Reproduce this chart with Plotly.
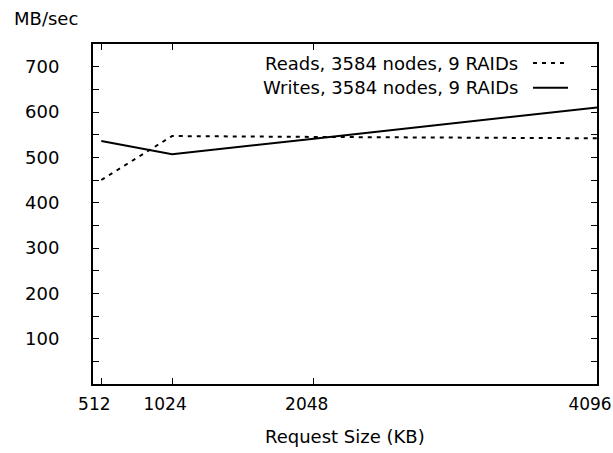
import plotly.graph_objects as go

request_kb = [512, 1024, 2048, 4096]
reads_mbs = [450, 547, 545, 542]
writes_mbs = [536, 507, 541, 610]
x_tick_labels = ["512", "1024", "2048", "4096"]
y_tick_values = [100, 200, 300, 400, 500, 600, 700]
reads_name = "Reads, 3584 nodes, 9 RAIDs"
writes_name = "Writes, 3584 nodes, 9 RAIDs"

FONT = "DejaVu Sans"
FS = 18
XR = [452, 4096]

fig = go.Figure()
fig.add_trace(go.Scatter(x=request_kb, y=reads_mbs, mode="lines", name=reads_name,
                         line=dict(color="black", width=2, dash="4px,5px"), showlegend=False))
fig.add_trace(go.Scatter(x=request_kb, y=writes_mbs, mode="lines", name=writes_name,
                         line=dict(color="black", width=2), showlegend=False))

fig.update_layout(
    width=613, height=453,
    margin=dict(l=93, r=16, t=44, b=68.5, autoexpand=False),
    paper_bgcolor="white", plot_bgcolor="white",
    font=dict(family=FONT, size=FS, color="black"),
    xaxis=dict(range=XR, tickvals=request_kb, ticktext=x_tick_labels, ticks="inside",
               ticklen=6, tickwidth=1, tickcolor="black", automargin=False,
               showgrid=False, zeroline=False, showline=True, linecolor="black",
               linewidth=2, mirror="ticks", ticklabelstandoff=4, ticklabelshift=-7,
               ticklabeloverflow="allow",
               tickfont=dict(family=FONT, size=17, color="black")),
    yaxis=dict(range=[0, 750], tickvals=y_tick_values, ticks="inside", ticklen=6,
               tickwidth=1, tickcolor="black", showgrid=False, zeroline=False,
               showline=True, linecolor="black", linewidth=2, mirror="ticks",
               ticklabelstandoff=28, automargin=False,
               minor=dict(dtick=50, tick0=0, ticks="inside", ticklen=6, tickwidth=1,
                          tickcolor="black", showgrid=False),
               tickfont=dict(family=FONT, size=FS, color="black")),
    annotations=[
        dict(text="MB/sec", xref="paper", yref="paper", x=-0.161, y=1.076,
             xanchor="left", yanchor="middle", showarrow=False,
             font=dict(family=FONT, size=FS, color="black")),
        dict(text="Request Size (KB)", xref="paper", yref="paper", x=0.5, y=-0.154,
             xanchor="center", yanchor="middle", showarrow=False,
             font=dict(family=FONT, size=FS, color="black")),
        dict(text=reads_name, xref="paper", yref="paper", x=0.847, y=0.944,
             xanchor="right", yanchor="middle", showarrow=False,
             font=dict(family=FONT, size=FS, color="black")),
        dict(text=writes_name, xref="paper", yref="paper", x=0.847, y=0.871,
             xanchor="right", yanchor="middle", showarrow=False,
             font=dict(family=FONT, size=FS, color="black")),
    ],
    shapes=[
        dict(type="line", xref="paper", yref="paper", x0=0.873, x1=0.9425, y0=0.944, y1=0.944,
             line=dict(color="black", width=2, dash="4px,5px")),
        dict(type="line", xref="paper", yref="paper", x0=0.873, x1=0.9425, y0=0.871, y1=0.871,
             line=dict(color="black", width=2)),
    ],
)

fig.write_html("out.html", config={"displayModeBar": False},
               post_script="document.body.style.margin='0';document.body.style.overflow='hidden';")
